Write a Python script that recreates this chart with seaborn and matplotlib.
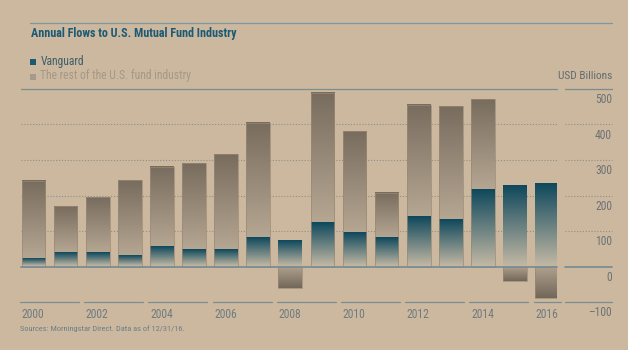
import numpy as np
import pandas as pd
import matplotlib
matplotlib.use("Agg")
import matplotlib.pyplot as plt
import matplotlib.transforms as mtransforms
from matplotlib import font_manager
import seaborn as sns

# ---- data (USD billions) ----
years = [str(y) for y in range(2000, 2017)]
vanguard = [20, 38, 38, 30, 54, 47, 47, 80, 71, 122, 95, 81, 139, 130, 216, 228, 233]
rest = [220, 132, 157, 214, 227, 245, 270, 324, -60, 368, 286, 127, 317, 321, 256, -40, -90]
yticks = [500, 400, 300, 200, 100, 0, -100]

title = "Annual Flows to U.S. Mutual Fund Industry"
legend_labels = ["Vanguard", "The rest of the U.S. fund industry"]
unit_label = "USD Billions"
source = "Sources: Morningstar Direct. Data as of 12/31/16."

sns.set_theme(style="white")

# find a condensed / narrow sans font if available
cands = []
for f in font_manager.fontManager.ttflist:
    nm = f.name.lower()
    fn = f.fname.lower()
    cond = ("condensed" in nm or "narrow" in nm or "condensed" in fn
            or "narrow" in fn or str(f.stretch) in ("condensed", "semi-condensed", "500", "600"))
    if cond and f.style == "normal":
        cands.append(f)


def pick(weight_bold):
    pri = ["roboto condensed", "liberation sans narrow", "open sans condensed",
           "dejavu sans", "noto sans", "inter", "roboto", "open sans", "lato"]
    for p in pri:
        for f in cands:
            fl = f.fname.lower()
            isbold = (f.weight in ("bold", 700) or "bold" in fl)
            if p in f.name.lower() or p.replace(" ", "") in fl:
                if isbold == weight_bold and not any(
                        s in fl for s in ("light", "semibold", "medium", "thin",
                                          "black", "extra")):
                    return f.fname
    return None


reg_file = pick(False)
bold_file = pick(True)
if reg_file:
    FP = lambda s: font_manager.FontProperties(fname=reg_file, size=s)
else:
    FP = lambda s: font_manager.FontProperties(family="Roboto", size=s * 0.85)
if bold_file:
    FPB = lambda s: font_manager.FontProperties(fname=bold_file, size=s)
else:
    FPB = lambda s: font_manager.FontProperties(family="Roboto", weight="bold", size=s * 0.85)

BG = "#CCB89E"
TEAL_TOP = np.array([14, 72, 92]) / 255
TEAL_BOT = np.array([194, 184, 164]) / 255
GRAY_TOP = np.array([120, 108, 94]) / 255
GRAY_BOT = np.array([182, 167, 147]) / 255

W, H = 628, 350
fig = plt.figure(figsize=(W / 100, H / 100), dpi=100, facecolor=BG)


def fx(px):
    return px / W


def fy(py):
    return 1 - py / H


ax_l, ax_r, ax_t, ax_b = 17, 557, 89, 302
ax = fig.add_axes([fx(ax_l), fy(ax_b), fx(ax_r - ax_l), (ax_b - ax_t) / H])
ax.set_facecolor(BG)

df = pd.DataFrame({"year": years, "vanguard": vanguard, "rest": rest})
df["top"] = np.where(df["rest"] > 0, df["vanguard"] + df["rest"], df["rest"])

sns.barplot(data=df, x="year", y="top", color="#8a7a68", width=0.74,
            saturation=1, ax=ax, zorder=3)
n = len(df)
sns.barplot(data=df, x="year", y="vanguard", color="#1e5f78", width=0.74,
            saturation=1, ax=ax, zorder=4)

gray_patches = ax.patches[:n]
van_patches = ax.patches[n:2 * n]


def grad(c_bot, c_top, power=1.0, N=200):
    t = np.linspace(0, 1, N) ** power
    arr = c_bot[None, :] + (c_top - c_bot)[None, :] * t[:, None]
    return np.clip(arr, 0, 1)[:, None, :]


for i, p in enumerate(gray_patches):
    x0, w = p.get_x(), p.get_width()
    r = df["rest"].iloc[i]
    v = df["vanguard"].iloc[i]
    if r > 0:
        ylo, yhi = v, v + r
        img = grad(GRAY_BOT, GRAY_TOP, 1.0)
    else:
        ylo, yhi = r, 0
        img = grad(GRAY_TOP * 0.95, GRAY_BOT * 0.97, 1.0)
    ax.imshow(img, extent=[x0, x0 + w, ylo, yhi], origin="lower",
              aspect="auto", zorder=3, interpolation="bilinear")
    p.set_facecolor("none")
    p.set_edgecolor("#9a8a74")
    p.set_linewidth(0.5)
    p.set_zorder(5)

for i, p in enumerate(van_patches):
    x0, w = p.get_x(), p.get_width()
    v = df["vanguard"].iloc[i]
    img = grad(TEAL_BOT, TEAL_TOP, 1.0)
    ax.imshow(img, extent=[x0, x0 + w, 0, v], origin="lower",
              aspect="auto", zorder=4, interpolation="bilinear")
    p.set_facecolor("none")
    p.set_edgecolor("none")
    p.set_zorder(5)

xl = (ax_l - 33.5) / 32.1
xr = (ax_r - 33.5) / 32.1
ax.set_xlim(xl, xr)
ax.set_ylim(-100, 500)
for s in ax.spines.values():
    s.set_visible(False)
ax.set_xticks([])
ax.set_yticks([])
ax.set_xlabel("")
ax.set_ylabel("")

# gridlines
GRID = "#8e8f8c"
LINE = "#7b8d93"
blend = mtransforms.blended_transform_factory(ax.transAxes, ax.transData)
seg0 = (565 - ax_l) / (ax_r - ax_l)
seg1 = (612 - ax_l) / (ax_r - ax_l)
for v in yticks:
    if v in (100, 200, 300, 400):
        kw = dict(color=GRID, lw=0.8, ls=(0, (1, 1.6)))
    elif v == 0:
        kw = dict(color=LINE, lw=1.3, ls="-")
    else:
        kw = dict(color=LINE, lw=0.9, ls="-")
    if v != -100:
        ax.plot([0.008, 1], [v, v], transform=blend, zorder=2 if v else 6,
                clip_on=False, **kw)
    ax.plot([seg0, seg1], [v, v], transform=blend, clip_on=False, **kw)
    off = mtransforms.offset_copy(blend, fig=fig, x=0, y=-3, units="points")
    ax.text(seg1, v, f"{v}".replace("-", "\u2013"), transform=off, ha="right",
            va="top", fontproperties=FP(8.4), color="#6c7276")

# bottom segmented axis + year labels
for k in range(0, n, 2):
    a = k - 0.42
    b = min(k + 1, n - 1) + 0.42
    ax.plot([a, b], [-100, -100], color=LINE, lw=0.9, clip_on=False, zorder=6)
    ax.text(a + 0.05, -100, years[k], ha="left", va="top", fontproperties=FP(8.4),
            color="#6f7b80",
            transform=mtransforms.offset_copy(ax.transData, fig=fig, x=0,
                                              y=-4, units="points"))

ax.text(seg1, 500, unit_label,
        transform=mtransforms.offset_copy(blend, fig=fig, x=0, y=6,
                                          units="points"),
        ha="right", va="bottom", fontproperties=FP(8.2), color="#626c70")

# title, header line, legend
fig.add_artist(plt.Line2D([fx(30), fx(612)], [fy(22.5), fy(22.5)],
                          color="#7c98a2", lw=0.9))
fig.text(fx(30.5), fy(33), title, fontproperties=FPB(8.7),
         color="#1d5a76", va="center", ha="left")
fig.add_artist(plt.Rectangle((fx(30), fy(65)), fx(5.5), 6 / H,
                             color="#1a5a73", lw=0))
fig.text(fx(40.5), fy(61), legend_labels[0], fontproperties=FP(8.4), color="#3d5e6b",
         va="center", ha="left")
fig.add_artist(plt.Rectangle((fx(30), fy(80)), fx(5.5), 6 / H,
                             color="#a69a8a", lw=0))
fig.text(fx(40.5), fy(76), legend_labels[1], fontproperties=FP(8.4), color="#a3988a",
         va="center", ha="left")

fig.text(fx(20.5), fy(329), source, fontproperties=FP(6), color="#6b7f88",
         va="center", ha="left")

fig.savefig("out.png", dpi=100, facecolor=BG)
